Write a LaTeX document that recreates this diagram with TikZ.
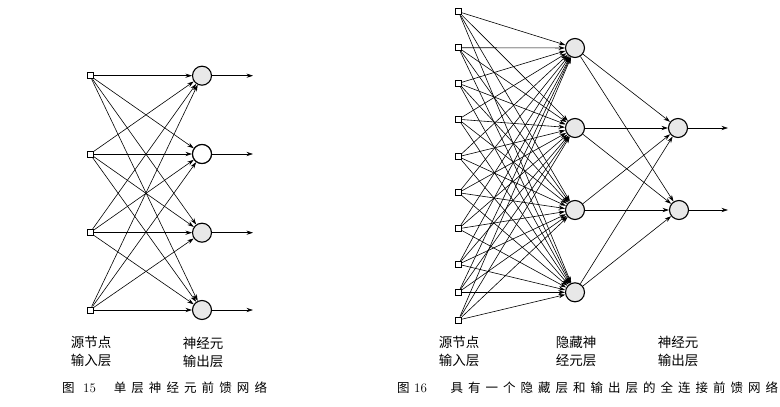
\documentclass[tikz,border=0pt]{standalone}
\usepackage{fontspec}
\newfontfamily\cjk{Noto Sans CJK SC}
\usetikzlibrary{arrows.meta}
\newcommand{\spacedchars}[2]{\foreach \c in {#2}{\makebox[#1][c]{\c}}}
\begin{document}
\begin{tikzpicture}[x=1pt,y=-1pt,
  inp/.style={draw,line width=1pt,minimum size=6pt,inner sep=0pt,fill=white},
  neu/.style={circle,draw,line width=1.1pt,minimum size=19pt,inner sep=0pt,fill=gray!18},
  con/.style={line width=0.6pt,-{Stealth[length=6.5pt,width=4.2pt]}},
  lab/.style={font=\cjk\fontsize{13.5}{18}\selectfont,align=center,inner sep=0pt},
  captxt/.style={font=\cjk\fontsize{12.5}{15}\selectfont,anchor=west,inner sep=0pt}]
\useasboundingbox (0,0) rectangle (780,407);

% ---------- left network ----------
\foreach \y [count=\i] in {75.7,154,232.7,310} {
  \node[inp] (a\i) at (90,\y) {};
  \node[neu] (b\i) at (202,\y) {};
  \coordinate (bo\i) at (253,\y);
}
\node[neu,fill=white] at (b2) {};
\foreach \i in {1,...,4} {
  \foreach \j in {1,...,4} { \draw[con] (a\i) -- (b\j); }
  \draw[con] (b\i) -- (bo\i);
}

% ---------- right network ----------
\foreach \y [count=\i] in {11.7,47.7,83.3,119.3,156.7,192.7,228.7,264.3,292.3,320} {
  \node[inp] (c\i) at (458.5,\y) {};
}
\foreach \y [count=\i] in {48,128,210,292.3} {
  \node[neu] (d\i) at (575,\y) {};
}
\node[neu] (e1) at (678,128) {};
\node[neu] (e2) at (679,210) {};
\coordinate (eo1) at (728,128);
\coordinate (eo2) at (728,210);
\foreach \i in {1,...,10} {
  \foreach \j in {1,...,4} { \draw[con] (c\i) -- (d\j); }
}
\foreach \j in {1,...,4} {
  \draw[con] (d\j) -- (e1);
  \draw[con] (d\j) -- (e2);
}
\draw[con] (e1) -- (eo1);
\draw[con] (e2) -- (eo2);

% ---------- labels ----------
\node[lab] (l1) at (91,351) {源节点\\输入层};
\node[lab] (l2) at (203,352) {神经元\\输出层};
\node[lab] (l3) at (459,351) {源节点\\输入层};
\node[lab] (l4) at (576,351) {隐藏神\\经元层};
\node[lab] (l5) at (678,351) {神经元\\输出层};

% ---------- captions ----------
\node[captxt] (c1a) at (62,388) {图};
\node[captxt,font=\fontsize{13}{15}\selectfont] (c1b) at (83,388) {15};
\node[captxt] (c1c) at (111,388) {\spacedchars{17.6pt}{单,层,神,经,元,前,馈,网,络}};
\node[captxt] (c2a) at (397,388) {图};
\node[captxt,font=\fontsize{13}{15}\selectfont] (c2b) at (414,388) {16};
\node[captxt] (c2c) at (448,388) {\spacedchars{17.5pt}{具,有,一,个,隐,藏,层,和,输,出,层,的,全,连,接,前,馈,网,络}};
\end{tikzpicture}
\end{document}
